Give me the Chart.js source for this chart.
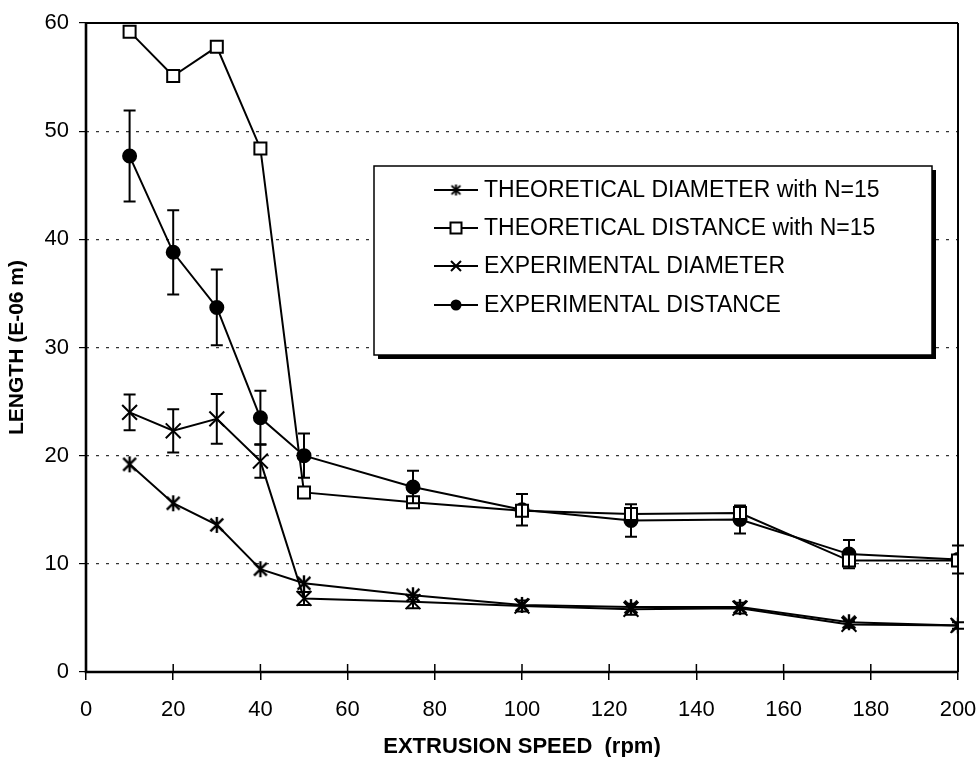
<!DOCTYPE html>
<html>
<head>
<meta charset="utf-8">
<title>Length vs extrusion speed</title>
<script src="https://cdn.jsdelivr.net/npm/chart.js@4.4.0/dist/chart.umd.min.js"></script>
<style>
    html, body { margin: 0; padding: 0; background: #fff; }
    #wrap { width: 980px; height: 757px; }
</style>
</head>
<body>
<div id="wrap"><canvas id="chart" width="980" height="757"></canvas></div>
<script>
// measured / predicted values
const speeds          = [10, 20, 30, 40, 50, 75, 100, 125, 150, 175, 200];
const theoDiameter    = [19.2, 15.6, 13.6, 9.5, 8.2, 7.1, 6.2, 6.0, 6.0, 4.6, 4.3];
const theoDistance    = [59.2, 55.1, 57.8, 48.4, 16.6, 15.7, 14.9, 14.6, 14.7, 10.3, 10.3];
const expDiameter     = [24.0, 22.3, 23.4, 19.5, 6.8, 6.5, 6.1, 5.8, 5.9, 4.4, 4.3];
const expDiameterErr  = [1.65, 2.0, 2.3, 1.55, 0.6, 0.6, 0.5, 0.5, 0.5, 0.3, 0.3];
const expDistance     = [47.7, 38.8, 33.7, 23.5, 20.0, 17.1, 15.0, 14.0, 14.1, 10.9, 10.4];
const expDistanceErr  = [4.2, 3.9, 3.5, 2.5, 2.05, 1.5, 1.45, 1.5, 1.3, 1.3, 1.3];

const seriesLabels = [
    'THEORETICAL DIAMETER with N=15',
    'THEORETICAL DISTANCE with N=15',
    'EXPERIMENTAL DIAMETER',
    'EXPERIMENTAL DISTANCE',
];
const xTitle = 'EXTRUSION SPEED  (rpm)';
const yTitle = 'LENGTH (E-06 m)';

const FONT = '"Liberation Sans", Arial, sans-serif';

const toPoints = arr => arr.map((v, i) => ({ x: speeds[i], y: v }));

// asterisk-like marker: an X with a vertical stroke
function makeStar(size, lw) {
    const c = document.createElement('canvas');
    c.width = size; c.height = size;
    const g = c.getContext('2d');
    const m = size / 2, r = size / 2 - 2;
    g.strokeStyle = '#000';
    g.lineWidth = lw;
    g.beginPath();
    g.moveTo(m - r * 0.8, m - r * 0.8); g.lineTo(m + r * 0.8, m + r * 0.8);
    g.moveTo(m + r * 0.8, m - r * 0.8); g.lineTo(m - r * 0.8, m + r * 0.8);
    g.moveTo(m, m - r); g.lineTo(m, m + r);
    g.stroke();
    return c;
}
const starMarker = makeStar(20, 2.4);
const starSmall  = makeStar(15, 2);

// axis frame: heavy left/bottom axes, plain top/right, inward x ticks
const framePlugin = {
    id: 'frame',
    afterDatasetsDraw(chart) {
        const { ctx, chartArea: a, scales } = chart;
        ctx.save();
        ctx.strokeStyle = '#000';
        ctx.lineWidth = 2;
        ctx.beginPath();
        ctx.moveTo(a.left, a.top); ctx.lineTo(a.right, a.top);
        ctx.moveTo(a.right, a.top); ctx.lineTo(a.right, a.bottom);
        ctx.stroke();
        ctx.lineWidth = 2.6;
        ctx.beginPath();
        ctx.moveTo(a.left, a.top - 1); ctx.lineTo(a.left, a.bottom);
        ctx.lineTo(a.right, a.bottom);
        ctx.stroke();
        ctx.lineWidth = 1.5;
        ctx.beginPath();
        scales.x.ticks.forEach(t => {
            const px = scales.x.getPixelForValue(t.value);
            ctx.moveTo(px, a.bottom); ctx.lineTo(px, a.bottom - 8);
        });
        ctx.stroke();
        ctx.restore();
    }
};

// vertical error bars with caps
const errorBarPlugin = {
    id: 'errorBars',
    afterDatasetsDraw(chart) {
        const { ctx, scales } = chart;
        ctx.save();
        ctx.strokeStyle = '#000';
        ctx.lineWidth = 2;
        chart.data.datasets.forEach(ds => {
            if (!ds.errors) return;
            ds.data.forEach((p, i) => {
                const e = ds.errors[i];
                const px = scales.x.getPixelForValue(p.x);
                const top = scales.y.getPixelForValue(p.y + e);
                const bot = scales.y.getPixelForValue(p.y - e);
                ctx.beginPath();
                ctx.moveTo(px, top); ctx.lineTo(px, bot);
                ctx.moveTo(px - 6, top); ctx.lineTo(px + 6, top);
                ctx.moveTo(px - 6, bot); ctx.lineTo(px + 6, bot);
                ctx.stroke();
            });
        });
        ctx.restore();
    }
};

function drawMarker(ctx, style, x, y, r) {
    ctx.save();
    ctx.strokeStyle = '#000';
    ctx.lineWidth = 2;
    ctx.beginPath();
    if (style === 'rect') {
        ctx.fillStyle = '#fff';
        ctx.rect(x - r, y - r, 2 * r, 2 * r);
        ctx.fill(); ctx.stroke();
    } else if (style === 'circle') {
        ctx.fillStyle = '#000';
        ctx.arc(x, y, r, 0, Math.PI * 2);
        ctx.fill();
    } else if (style === 'crossRot') {
        ctx.moveTo(x - r, y - r); ctx.lineTo(x + r, y + r);
        ctx.moveTo(x + r, y - r); ctx.lineTo(x - r, y + r);
        ctx.stroke();
    } else {
        ctx.drawImage(style, x - style.width / 2, y - style.height / 2);
    }
    ctx.restore();
}

// boxed legend with drop shadow, inside the plot
const legendPlugin = {
    id: 'boxLegend',
    afterDraw(chart) {
        const { ctx } = chart;
        const bx = 374, by = 166, bw = 558, bh = 189;
        ctx.save();
        ctx.fillStyle = '#000';
        ctx.fillRect(bx + 4, by + 4, bw, bh);
        ctx.fillStyle = '#fff';
        ctx.fillRect(bx, by, bw, bh);
        ctx.strokeStyle = '#000';
        ctx.lineWidth = 1.5;
        ctx.strokeRect(bx, by, bw, bh);

        const rows = [190, 228, 266, 305];
        const legendMarks = [starSmall, 'rect', 'crossRot', 'circle'];
        const legendSizes = [0, 5.5, 5, 5.5];
        ctx.font = '23px ' + FONT;
        ctx.textBaseline = 'middle';
        chart.data.datasets.forEach((ds, i) => {
            const y = rows[i];
            ctx.strokeStyle = '#000';
            ctx.lineWidth = 2;
            ctx.beginPath();
            ctx.moveTo(434, y); ctx.lineTo(478, y);
            ctx.stroke();
            drawMarker(ctx, legendMarks[i], 456, y, legendSizes[i]);
            ctx.fillStyle = '#000';
            ctx.fillText(ds.label, 484, y + 1);
        });
        ctx.restore();
    }
};

// x-axis title
const xTitlePlugin = {
    id: 'xTitle',
    afterDraw(chart) {
        const { ctx, chartArea: a } = chart;
        ctx.save();
        ctx.font = 'bold 22px ' + FONT;
        ctx.fillStyle = '#000';
        ctx.textAlign = 'center';
        ctx.textBaseline = 'middle';
        ctx.fillText(xTitle, (a.left + a.right) / 2, 747);
        ctx.restore();
    }
};

const common = {
    borderColor: '#000',
    borderWidth: 2,
    pointBorderColor: '#000',
    pointBorderWidth: 2,
    tension: 0,
    fill: false,
};

const ctx = document.getElementById('chart').getContext('2d');
new Chart(ctx, {
    type: 'line',
    data: {
        datasets: [
            { ...common, label: seriesLabels[0], data: toPoints(theoDiameter),
              pointStyle: starMarker, pointRadius: 9 },
            { ...common, label: seriesLabels[1], data: toPoints(theoDistance),
              pointStyle: 'rect', pointRadius: 8.5, pointBackgroundColor: '#fff' },
            { ...common, label: seriesLabels[2], data: toPoints(expDiameter), errors: expDiameterErr,
              pointStyle: 'crossRot', pointRadius: 10.5 },
            { ...common, label: seriesLabels[3], data: toPoints(expDistance), errors: expDistanceErr,
              pointStyle: 'circle', pointRadius: 6.5, pointBackgroundColor: '#000' },
        ]
    },
    options: {
        responsive: false,
        animation: false,
        layout: { padding: { top: 23, right: 22, bottom: 0, left: 0 } },
        plugins: { legend: { display: false }, tooltip: { enabled: false } },
        scales: {
            x: {
                type: 'linear', min: 0, max: 200,
                ticks: { stepSize: 20, color: '#000', padding: 17, font: { family: FONT, size: 22 } },
                grid: { drawOnChartArea: false, tickLength: 8, color: '#000', lineWidth: 1.5 },
                border: { display: false },
                afterFit: s => { s.height = 85; s.paddingLeft = 0; s.paddingRight = 0; },
            },
            y: {
                min: 0, max: 60,
                ticks: { stepSize: 10, color: '#000', padding: 10, font: { family: FONT, size: 22 } },
                grid: {
                    color: c => (c.tick && (c.tick.value === 0 || c.tick.value === 60)) ? 'rgba(0,0,0,0)' : '#333',
                    tickColor: '#000', tickLength: 7, lineWidth: 1.2,
                },
                border: { display: false, dash: [3, 7] },
                title: { display: true, text: yTitle, color: '#000',
                         font: { family: FONT, size: 21, weight: 'bold' }, padding: { top: 5, bottom: 0 } },
                afterFit: s => { s.width = 86; s.paddingTop = 0; s.paddingBottom = 0; },
            }
        }
    },
    plugins: [framePlugin, errorBarPlugin, legendPlugin, xTitlePlugin]
});
</script>
</body>
</html>
